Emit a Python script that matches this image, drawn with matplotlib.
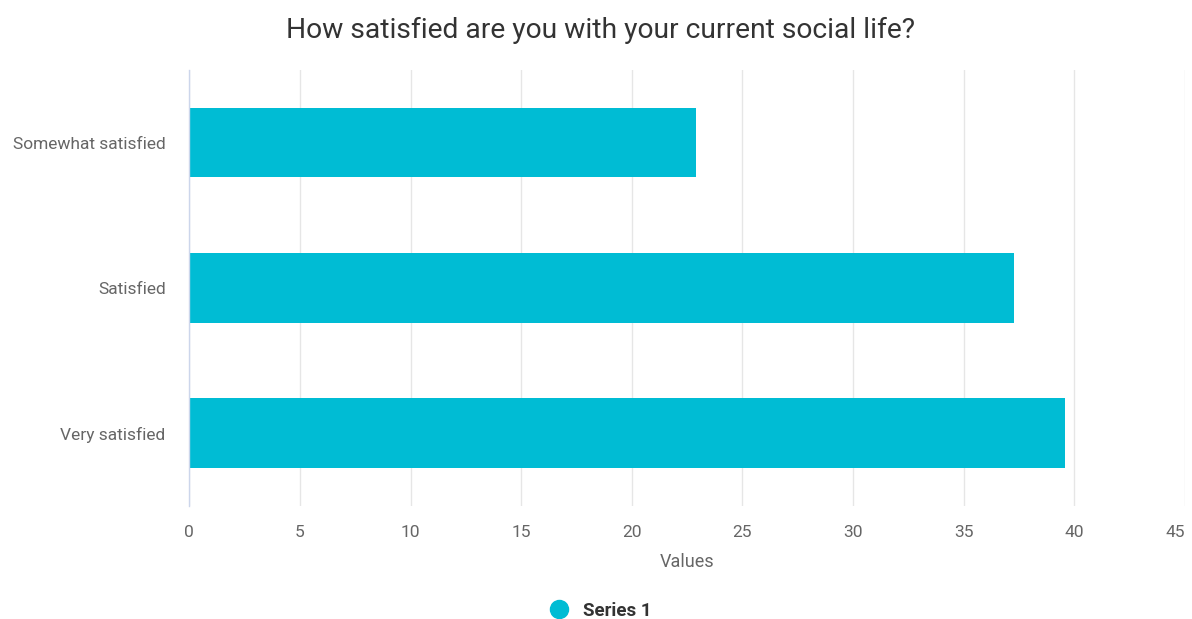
import matplotlib.pyplot as plt
from matplotlib.lines import Line2D

plt.rcParams['font.family'] = ['Roboto', 'DejaVu Sans']

categories = ["Somewhat satisfied", "Satisfied", "Very satisfied"]
values = [22.9, 37.3, 39.6]
x_ticks = [0, 5, 10, 15, 20, 25, 30, 35, 40, 45]

bar_color = "#00bcd4"

fig = plt.figure(figsize=(11.92, 6.19), dpi=100)
ax = fig.add_axes([0.1588, 0.1826, 0.8352, 0.7044])

ax.barh(categories, values, height=0.48, color=bar_color, zorder=3)
ax.set_ylim(2.5, -0.5)
ax.set_xlim(0, 45)
ax.set_xticks(x_ticks)

ax.grid(axis="x", color="#e6e6e6", linewidth=1, zorder=0)
ax.grid(axis="y", visible=False)
for side in ["top", "right", "bottom"]:
    ax.spines[side].set_visible(False)
ax.spines["left"].set_color("#ccd6eb")
ax.spines["left"].set_linewidth(1)
ax.spines["left"].set_zorder(4)

ax.tick_params(axis="both", length=0, colors="#666666", labelsize=12.5)
ax.tick_params(axis="x", pad=14)
ax.tick_params(axis="y", pad=17)
# keep the last x label inside the figure
ax.get_xticklabels()[-1].set_horizontalalignment("right")

ax.set_xlabel("Values", fontsize=13, color="#666666", labelpad=9)
fig.suptitle("How satisfied are you with your current social life?",
             fontsize=20.3, color="#333333", x=0.504, y=0.972)

handle = Line2D([], [], marker="o", linestyle="none", markersize=13,
                markerfacecolor=bar_color, markeredgecolor=bar_color)
fig.legend([handle], ["Series 1"], loc="center", bbox_to_anchor=(0.5, 0.013),
           frameon=False, handletextpad=0.3, prop={"weight": "bold", "size": 13.5},
           labelcolor="#333333")

fig.savefig("out.png", dpi=100, facecolor="white")
